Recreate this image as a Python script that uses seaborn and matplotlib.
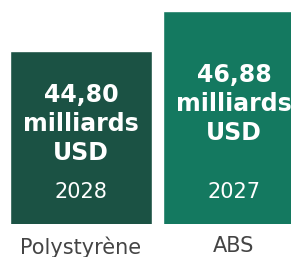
import matplotlib
matplotlib.use("Agg")
import matplotlib.pyplot as plt
import seaborn as sns
import pandas as pd

# data
categories = ["Polystyrène", "ABS"]
values = [44.80, 46.88]
value_labels = ["44,80", "46,88"]
years = ["2028", "2027"]
colors = ["#1B5244", "#147960"]

df = pd.DataFrame({"cat": categories, "val": values})

sns.set_theme(style="white")
plt.rcParams["font.family"] = ["DejaVu Sans"]

fig = plt.figure(figsize=(2.91, 2.57), dpi=100)
ax = fig.add_axes([0, 33 / 257, 1, 224 / 257])

sns.barplot(data=df, x="cat", y="val", hue="cat", palette=colors,
            width=0.928, legend=False, saturation=1, ax=ax)

y_min, y_max = 35.8, 47.45
ax.set_xlim(-0.529, 1.373)
ax.set_ylim(y_min, y_max)
px_per_unit = 224 / (y_max - y_min)

for i, (v, lab, yr) in enumerate(zip(values, value_labels, years)):
    year_y = y_min + 32 / px_per_unit
    ax.text(i, year_y, yr, ha="center", va="center", color="white", fontsize=15)
    year_top = year_y + 9 / px_per_unit
    block_y = (v + year_top) / 2 - 7 / px_per_unit
    ax.text(i, block_y, f"{lab}\nmilliards\nUSD", ha="center", va="center",
            color="white", fontsize=17, fontweight="bold", linespacing=1.26)

ax.set_xlabel("")
ax.set_ylabel("")
ax.set_yticks([])
ax.tick_params(axis="x", length=0, pad=9, labelsize=15, labelcolor="#444444")
sns.despine(ax=ax, left=True, bottom=True)

fig.savefig("out.png", dpi=100)
